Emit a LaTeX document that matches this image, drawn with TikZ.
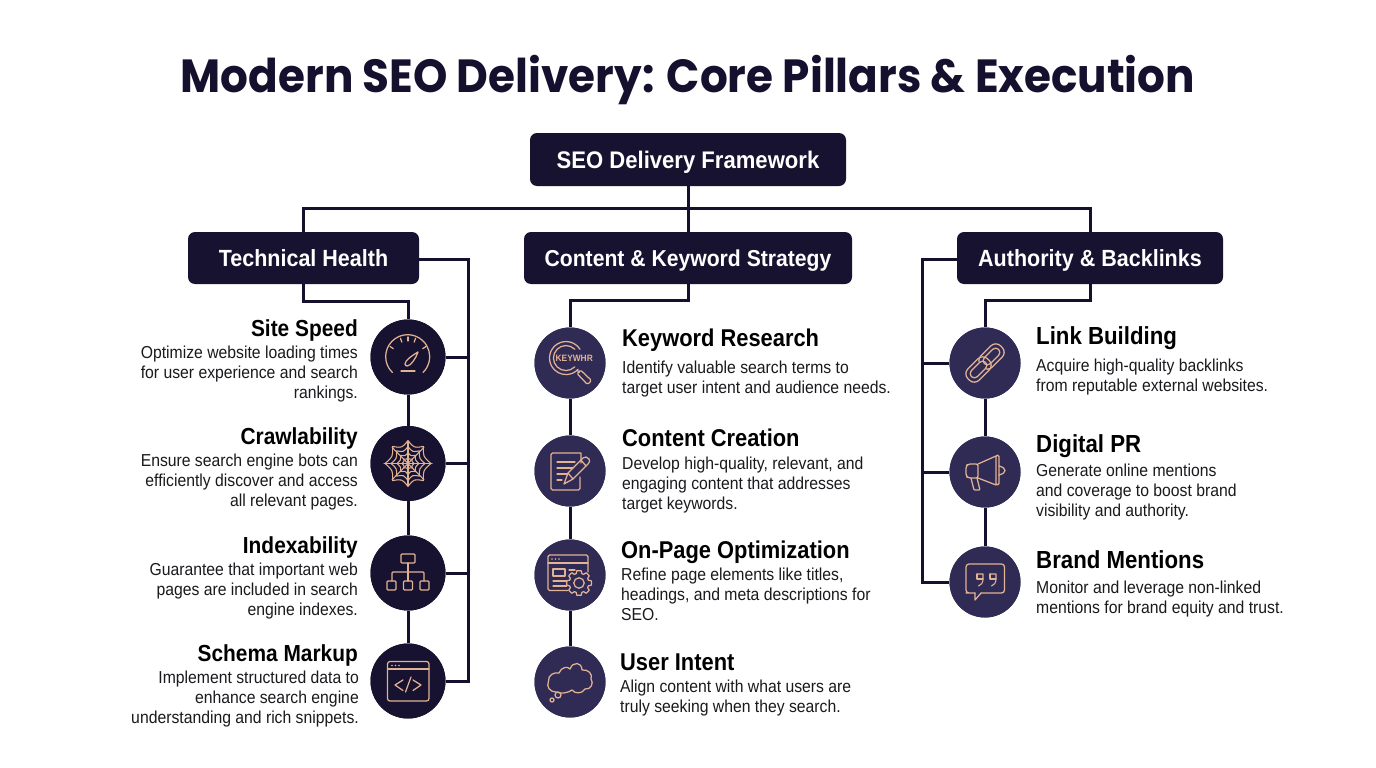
\documentclass[tikz,border=0pt]{standalone}
\usepackage{fontspec}
\setmainfont{Liberation Sans}
\newfontfamily\titlefont{Poppins}[UprightFont=*-Bold,FakeStretch=0.94]
\newfontfamily\bodyfont{Liberation Sans}[FakeStretch=0.91]
\newfontfamily\headfont{Liberation Sans}[FakeStretch=0.9,UprightFont=* Bold]
\newfontfamily\boxfont{Liberation Sans}[FakeStretch=0.92]
\definecolor{ink}{HTML}{14102E}
\definecolor{dark}{HTML}{17122F}
\definecolor{mid}{HTML}{2F2B55}
\definecolor{peach}{HTML}{E2B294}
\definecolor{bodyc}{HTML}{1A1A1E}
\tikzset{
  x=1pt,y=-1pt,
  framebox/.style={draw=none,fill=dark,rounded corners=7pt,text=white,font=\boxfont\fontsize{#1}{28}\selectfont\bfseries,inner sep=0pt,text height=20pt,text depth=3pt},
  link/.style={draw=ink,line width=3pt,line cap=butt,line join=miter},
  disc/.style={circle,fill=#1,minimum size=70pt,inner sep=0pt},
  ico/.style={draw=peach,line width=1.25pt,line cap=round,line join=round},
  headl/.style={font=\headfont\fontsize{#1}{26}\selectfont,text=black,inner sep=0pt},
  bodyr/.style={font=\bodyfont\fontsize{17.3}{20}\selectfont,text=bodyc,inner sep=0pt,align=right,anchor=north east},
  bodyl/.style={font=\bodyfont\fontsize{17.3}{20}\selectfont,text=bodyc,inner sep=0pt,align=left,anchor=north west},
}
\begin{document}
\begin{tikzpicture}
\useasboundingbox (0,0) rectangle (1376,768);
\fill[white] (0,0) rectangle (1376,768);
\node[font=\titlefont\fontsize{46.5}{50}\selectfont,text=ink,inner sep=0pt] (title) at (688,80) {Modern SEO Delivery: Core Pillars \& Execution};
% boxes
\node[framebox=24,minimum width=316pt,minimum height=53pt] (root) at (688,159.5) {SEO Delivery Framework};
\node[framebox=23.4,minimum width=231pt,minimum height=52pt] (tech) at (303.5,258) {Technical Health};
\node[framebox=23,minimum width=328pt,minimum height=52pt] (cont) at (688,258) {Content \& Keyword Strategy};
\node[framebox=23.4,minimum width=266pt,minimum height=52pt] (auth) at (1090,258) {Authority \& Backlinks};
% discs
\node[disc=dark,minimum size=75pt] (a1) at (408,357) {};
\node[disc=dark,minimum size=75pt] (a2) at (408,463.5) {};
\node[disc=dark,minimum size=75pt] (a3) at (408,573) {};
\node[disc=dark,minimum size=75pt] (a4) at (408,681) {};
\node[disc=mid,minimum size=71pt] (b1) at (570,363) {};
\node[disc=mid,minimum size=71pt] (b2) at (570,471) {};
\node[disc=mid,minimum size=71pt] (b3) at (570,575) {};
\node[disc=mid,minimum size=71pt] (b4) at (570,682) {};
\node[disc=mid,minimum size=71pt] (c1) at (985,363) {};
\node[disc=mid,minimum size=71pt] (c2) at (985,472) {};
\node[disc=mid,minimum size=71pt] (c3) at (985,582) {};
% connectors
\coordinate (hub) at (688,208);
\draw[link] (root.south) -- (cont.north);
\draw[link] (tech.north) |- (hub) -| (auth.north);
\draw[link] (tech.south) -- ++(0,17) -| (a1.north);
\draw[link] (a1) -- (a2);\draw[link] (a2) -- (a3);\draw[link] (a3) -- (a4);
\coordinate (rt) at (468,259);
\draw[link] (tech.east |- rt) -- (rt) |- (a4.east);
\draw[link] (a1.east) -- (a1.east -| rt);
\draw[link] (a2.east) -- (a2.east -| rt);
\draw[link] (a3.east) -- (a3.east -| rt);
\draw[link] (cont.south) -- ++(0,16) -| (b1.north);
\draw[link] (b1) -- (b2);\draw[link] (b2) -- (b3);\draw[link] (b3) -- (b4);
\draw[link] (auth.south) -- ++(0,16) -| (c1.north);
\draw[link] (c1) -- (c2);\draw[link] (c2) -- (c3);
\coordinate (lt) at (922,259);
\draw[link] (auth.west |- lt) -- (lt) |- (c3.west);
\draw[link] (c1.west) -- (c1.west -| lt);
\draw[link] (c2.west) -- (c2.west -| lt);
% redraw discs on top of connectors
\foreach \n/\c/\s in {a1/dark/75,a2/dark/75,a3/dark/75,a4/dark/75,b1/mid/71,b2/mid/71,b3/mid/71,b4/mid/71,c1/mid/71,c2/mid/71,c3/mid/71}{
  \fill[\c] (\n.center) circle[radius=\s/2];
}
% icons
\begin{scope}[shift={(a1.center)},ico] % gauge
  \draw (-15.6,15.5) arc[start angle=134,end angle=406,radius=22] ;
  \foreach \a in {215,250,270,290,325}{\draw ({22*cos(\a)},{2+22*sin(\a)}) -- ({18*cos(\a)},{2+18*sin(\a)});}
  \draw (-3,7) .. controls (-3,3) and (5,-2) .. (10,-5) .. controls (8,1) and (3,9) .. (-1,9) .. controls (-2,9) and (-3,8) .. (-3,7);
  \draw (-7,14) -- (7,14);
\end{scope}
\begin{scope}[shift={(a2.center)},ico,line width=1.05pt] % web
  \foreach \a in {0,48,90,132,180,228,270,312}{\draw (0,0) -- ({24*cos(\a)},{(24-2)*sin(\a)});}
  \foreach \r in {6,11,17,23}{
    \draw ({\r*cos(0)},0) foreach \a/\b in {0/48,48/90,90/132,132/180,180/228,228/270,270/312,312/360}{
      .. controls ({0.72*\r*cos((\a+\b)/2)},{0.72*\r*sin((\a+\b)/2)}) .. ({\r*cos(\b)},{\r*sin(\b)})};
  }
\end{scope}
\begin{scope}[shift={(a3.center)},ico] % hierarchy
  \draw[rounded corners=1pt] (-7,-19) rectangle (7,-10);
  \draw (0,-10) -- (0,8);
  \draw (-16,8) -- (-16,2) [rounded corners=1pt] -- (-16,-1) -- (16,-1) -- (16,8);
  \draw[rounded corners=1pt] (-21,8) rectangle (-12,17);
  \draw[rounded corners=1pt] (-4.5,8) rectangle (4.5,17);
  \draw[rounded corners=1pt] (12,8) rectangle (21,17);
\end{scope}
\begin{scope}[shift={(a4.center)},ico] % code window
  \draw[rounded corners=2.5pt] (-20.5,-19.5) rectangle (21,20);
  \draw (-20.5,-12) -- (21,-12);
  \foreach \x in {-16,-12.5,-9}{\fill[peach] (\x,-15.5) circle[radius=0.8];}
  \draw (-5,-1) -- (-13,4) -- (-5,9.5);
  \draw (5,-1) -- (13,4) -- (5,9.5);
  \draw (3,-4) -- (-2.5,11);
\end{scope}
\begin{scope}[shift={(b1.center)},ico] % keyword
  \draw (10,-13.7) arc[start angle=-32,end angle=-317,radius=16.5] ;
  \draw (4.8,-13.8) arc[start angle=-45,end angle=-315,radius=12.5];
  \draw (7,7) -- (9.5,9.5);
  \draw[rounded corners=1.5pt] (10.5,7) -- (21.5,17.5) -- (17.5,21.5) -- (7,10.5) -- cycle;
  \node[font=\bodyfont\fontsize{9.2}{10}\selectfont\bfseries,text=peach,inner sep=0pt,draw=none,anchor=west] (kw) at (-15,-4.5) {KEYWHR};
\end{scope}
\begin{scope}[shift={(b2.center)},ico] % document
  \draw (11,-8) -- (11,-18) [rounded corners=1.5pt] -- (-19,-18) -- (-19,19) -- (10,19) -- (10,6);
  \draw (-13,-9) -- (5,-9); \draw (-13,-3) -- (3,-3); \draw (-13,3) -- (-3,3); \draw (-13,9) -- (-8,9);
  \draw[line join=round] (-6,13) -- (-2,2) -- (13,-13) .. controls (15,-15) and (17,-14) .. (19,-12) .. controls (20,-10) and (20,-9) .. (18,-7) -- (3,8) -- cycle;
  \draw (-2,2) -- (3,8); \draw (11,-11) -- (16,-5);
\end{scope}
\begin{scope}[shift={(b3.center)},ico] % on-page
  \draw (-2,15.5) -- (-19,15.5) [rounded corners=1.5pt] -- (-22,15.5) -- (-22,-20) -- (18,-20) -- (18,-3);
  \draw (-22,-12) -- (18,-12);
  \foreach \x in {-18,-14.5,-11}{\fill[peach] (\x,-16) circle[radius=0.8];}
  \draw (-17,-6) rectangle (-5,1);
  \draw (-1,-5) -- (5,-5); \draw (-17,6) -- (-3,6); \draw (-17,11) -- (-3,11);
  \begin{scope}[shift={(9,8)}]
   \fill[mid] (0,0) circle[radius=12.5];
   \draw (0:12.5) foreach \a in {0,45,...,315}{
      -- ({\a+10}:12.5) -- ({\a+17}:9.8) -- ({\a+45-17}:9.8) -- ({\a+45-10}:12.5)
     } -- cycle;
   \draw (0,0) circle[radius=5.2];
  \end{scope}
\end{scope}
\begin{scope}[shift={(b4.center)},ico] % cloud
  \draw (-14,10) .. controls (-20,10) and (-24,5) .. (-21.5,-1)
     .. controls (-22,-7) and (-16,-10) .. (-11,-9)
     .. controls (-9,-15) and (-2,-16) .. (0,-13)
     .. controls (3,-21) and (12,-20) .. (12,-12)
     .. controls (18,-13) and (23,-8) .. (21,-3)
     .. controls (24,1) and (21,8) .. (15,7)
     .. controls (12,12) and (5,12) .. (2,8)
     .. controls (-2,11) and (-9,12) .. (-14,10) -- cycle;
  \draw (-12,13) circle[radius=3];
  \draw (-18,18) circle[radius=2];
\end{scope}
\begin{scope}[shift={(c1.center)},ico] % chain
  \begin{scope}[shift={(6.5,-6.5)},rotate=45]
    \draw[rounded corners=7pt] (-14,-8) rectangle (14,8);
    \draw[rounded corners=4pt] (-10,-4.2) rectangle (10,4.2);
  \end{scope}
  \begin{scope}[shift={(-6.5,6.5)},rotate=45]
    \fill[mid,rounded corners=7pt] (-14,-8) rectangle (7,8);
    \draw[rounded corners=7pt] (-14,-8) rectangle (14,8);
    \draw[rounded corners=4pt] (-10,-4.2) rectangle (10,4.2);
  \end{scope}
\end{scope}
\begin{scope}[shift={(c2.center)},ico] % megaphone
  \draw[rounded corners=2pt] (-7,-8) -- (-17,-8) -- (-19,-6) -- (-19,4) -- (-17,6) -- (-7,6) -- cycle;
  \draw (-7,-8) -- (11,-16); \draw (-7,6) -- (11,13);
  \draw[rounded corners=1.5pt] (11,-17) -- (14,-17) -- (14,13) -- (11,13) -- cycle;
  \draw (14,-6) .. controls (22,-4) and (22,1) .. (14,3);
  \draw[rounded corners=1pt] (-14,6) -- (-11,18) -- (-5,18) -- (-8,6);
\end{scope}
\begin{scope}[shift={(c3.center)},ico] % quote
  \draw[rounded corners=3pt] (-10,11) -- (-16,11) -- (-19,11) -- (-19,-18) -- (19.5,-18) -- (19.5,11) -- (-4,11);
  \draw (-10,11) -- (-10,18) -- (-4,11);
  \foreach \x in {-8,5}{
    \draw[line width=1.1pt] (\x,-8) -- (\x+6,-8) -- (\x+6,-3) .. controls (\x+6,1) and (\x+4,3) .. (\x+1.5,4);
    \draw[line width=1.1pt] (\x,-8) -- (\x,-3) -- (\x+6,-3);
  }
\end{scope}
% left texts
\node[headl=23.2,anchor=east] (h1) at (358,330) {Site Speed};
\node[bodyr] (t1) at (358,346) {Optimize website loading times\\for user experience and search\\rankings.};
\node[headl=23.2,anchor=east] (h2) at (358,438) {Crawlability};
\node[bodyr] (t2) at (358,454) {Ensure search engine bots can\\efficiently discover and access\\all relevant pages.};
\node[headl=23.2,anchor=east] (h3) at (358,547) {Indexability};
\node[bodyr] (t3) at (358,563) {Guarantee that important web\\pages are included in search\\engine indexes.};
\node[headl=23.2,anchor=east] (h4) at (358,655) {Schema Markup};
\node[bodyr] (t4) at (359,671) {Implement structured data to\\enhance search engine\\understanding and rich snippets.};
% middle texts
\node[headl=24.3,anchor=west] (m1) at (622,340) {Keyword Research};
\node[bodyl] (u1) at (622,361) {Identify valuable search terms to\\target user intent and audience needs.};
\node[headl=24.3,anchor=west] (m2) at (622,438) {Content Creation};
\node[bodyl] (u2) at (622,457) {Develop high-quality, relevant, and\\engaging content that addresses\\target keywords.};
\node[headl=24.3,anchor=west] (m3) at (621,552) {On-Page Optimization};
\node[bodyl] (u3) at (621,568) {Refine page elements like titles,\\headings, and meta descriptions for\\SEO.};
\node[headl=24.3,anchor=west] (m4) at (620,662) {User Intent};
\node[bodyl] (u4) at (620,680) {Align content with what users are\\truly seeking when they search.};
% right texts
\node[headl=24.7,anchor=west] (r1) at (1036,338) {Link Building};
\node[bodyl] (v1) at (1036,359) {Acquire high-quality backlinks\\from reputable external websites.};
\node[headl=24.7,anchor=west] (r2) at (1036,446) {Digital PR};
\node[bodyl] (v2) at (1036,464) {Generate online mentions\\and coverage to boost brand\\visibility and authority.};
\node[headl=24.7,anchor=west] (r3) at (1036,560) {Brand Mentions};
\node[bodyl] (v3) at (1036,581) {Monitor and leverage non-linked\\mentions for brand equity and trust.};
\end{tikzpicture}
\end{document}
